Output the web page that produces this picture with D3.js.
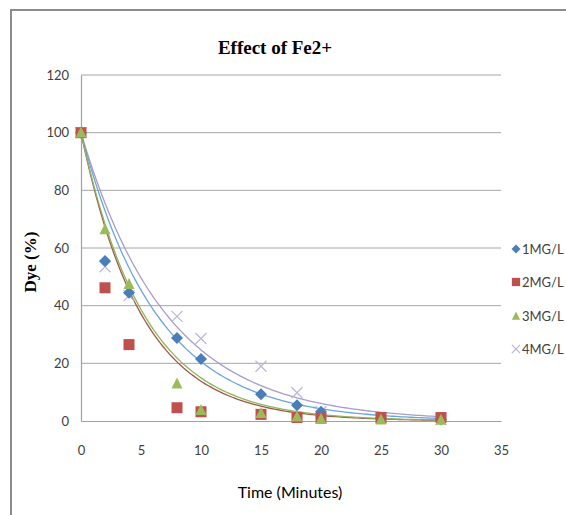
<!DOCTYPE html>
<html lang="en">
<head>
<meta charset="UTF-8">
<title>Effect of Fe2+</title>
<style>
  body { margin: 0; padding: 0; background: #fff; }
  svg { display: block; }
  .tick-label { font-family: Lato, 'Liberation Sans', sans-serif; font-size: 13px; fill: #404040; }
  .legend-label { font-family: Lato, 'Liberation Sans', sans-serif; font-size: 13px; fill: #404040; }
</style>
</head>
<body>
<svg id="chart"></svg>
<script src="https://d3js.org/d3.v7.min.js"></script>
<script>
// Data
const times = [0, 2, 4, 8, 10, 15, 18, 20, 25, 30];
const series = ['1MG/L', '2MG/L', '3MG/L', '4MG/L'];
const dye1 = [100, 55.5, 44.5, 28.8, 21.5, 9.3, 5.5, 3.2, 1, 0.5];
const dye2 = [100, 46.2, 26.5, 4.6, 3.2, 2.3, 1.2, 1, 1.2, 1.2];
const dye3 = [100, 66.5, 47.5, 13, 3.8, 2.8, 1.5, 0.8, 0.5, 0.4];
const dye4 = [100, 53.5, 43.5, 36.3, 28.6, 19, 9.8, 3.2, 1, 0.5];
// exponential trendlines y = a * exp(-k t), estimated from the drawn curves
const trendA = [100, 100, 100, 100];
const trendK = [0.158, 0.198, 0.19, 0.14];
const xTicks = [0, 5, 10, 15, 20, 25, 30, 35];
const yTicks = [0, 20, 40, 60, 80, 100, 120];

const width = 566, height = 515;
const svg = d3.select('#chart').attr('width', width).attr('height', height);

// outer frame
svg.append('rect')
  .attr('x', 11).attr('y', 10)
  .attr('width', 600).attr('height', 600)
  .attr('fill', 'none').attr('stroke', '#8c8c8c').attr('stroke-width', 2);

const x = d3.scaleLinear().domain([0, 35]).range([81, 501]);
const y = d3.scaleLinear().domain([0, 120]).range([421, 75]);

// gridlines
svg.append('g').selectAll('line')
  .data(yTicks.filter(d => d > 0))
  .enter().append('line')
  .attr('x1', x(0)).attr('x2', x(35))
  .attr('y1', d => y(d)).attr('y2', d => y(d))
  .attr('stroke', '#a6a6a6').attr('stroke-width', 1);

// axes
const xAxis = svg.append('g')
  .attr('transform', `translate(0,${y(0)})`)
  .call(d3.axisBottom(x).tickValues(xTicks).tickSize(0).tickPadding(25));
const yAxis = svg.append('g')
  .attr('transform', `translate(${x(0)},0)`)
  .call(d3.axisLeft(y).tickValues(yTicks).tickSize(0).tickPadding(12));
[xAxis, yAxis].forEach(g => {
  g.select('.domain').attr('stroke', '#a0a0a0').attr('stroke-width', 1.2);
  g.selectAll('text').attr('class', 'tick-label');
});

// trendlines
const colorsLine = ['#6aa6dc', '#a0584a', '#8fb55a', '#a99ccb'];
const tLine = d3.range(0, 30.01, 0.25);
const line = d3.line().x(d => x(d[0])).y(d => y(d[1])).curve(d3.curveMonotoneX);
[3, 0, 1, 2].forEach(i => {
  svg.append('path')
    .datum(tLine.map(t => [t, trendA[i] * Math.exp(-trendK[i] * t)]))
    .attr('d', line)
    .attr('fill', 'none')
    .attr('stroke', colorsLine[i])
    .attr('stroke-width', 1.3);
});

// markers (s = scale factor)
function drawMarker(g, i, s) {
  if (i === 0) {
    const r = 6 * s;
    g.append('path').attr('d', `M0,${-r}L${r},0L0,${r}L${-r},0Z`).attr('fill', '#4a7ebb');
  }
  if (i === 1) {
    const r = 5.5 * s;
    g.append('rect').attr('x', -r).attr('y', -r).attr('width', 2 * r).attr('height', 2 * r)
      .attr('fill', '#c0504d');
  }
  if (i === 2) {
    const r = 5.5 * s;
    g.append('path').attr('d', `M0,${-r * 1.1}L${r},${r * 0.9}L${-r},${r * 0.9}Z`).attr('fill', '#9bbb59');
  }
  if (i === 3) {
    const r = 5.5 * s;
    g.append('path').attr('d', `M${-r},${-r}L${r},${r}M${-r},${r}L${r},${-r}`)
      .attr('fill', 'none').attr('stroke', '#b7b7d8').attr('stroke-width', 1.2);
  }
}

const allDye = [dye1, dye2, dye3, dye4];
[3, 0, 1, 2].forEach(i => {
  times.forEach((t, j) => {
    const g = svg.append('g').attr('transform', `translate(${x(t)},${y(allDye[i][j])})`);
    drawMarker(g, i, 1);
  });
});

// legend
const legendY = [249, 282, 316, 349];
series.forEach((s, i) => {
  const g = svg.append('g').attr('transform', `translate(516,${legendY[i]})`);
  drawMarker(g, i, 0.75);
  g.append('text').attr('class', 'legend-label')
    .attr('x', 6).attr('dy', '0.35em').text(s);
});

// titles
svg.append('text')
  .attr('x', 275).attr('y', 54)
  .attr('text-anchor', 'middle')
  .attr('font-family', "'Liberation Serif', 'DejaVu Serif', serif")
  .attr('font-weight', 'bold').attr('font-size', 19)
  .attr('fill', '#000')
  .text('Effect of Fe2+');

svg.append('text')
  .attr('transform', 'translate(36,262) rotate(-90)')
  .attr('text-anchor', 'middle')
  .attr('font-family', "'Liberation Serif', 'DejaVu Serif', serif")
  .attr('font-weight', 'bold').attr('font-size', 17)
  .attr('fill', '#000')
  .text('Dye (%)');

svg.append('text')
  .attr('x', 290).attr('y', 498)
  .attr('text-anchor', 'middle')
  .attr('font-family', "Lato, 'Liberation Sans', sans-serif")
  .attr('font-size', 16)
  .attr('fill', '#000')
  .text('Time (Minutes)');
</script>
</body>
</html>
